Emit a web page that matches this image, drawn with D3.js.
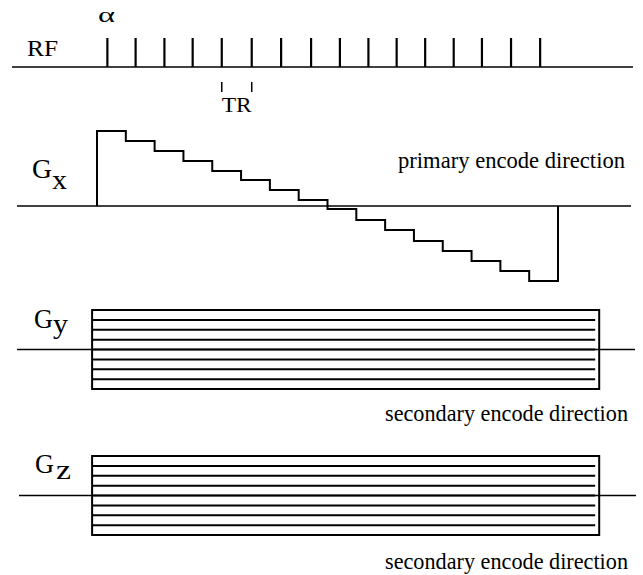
<!DOCTYPE html>
<html>
<head>
<meta charset="utf-8">
<script src="https://cdn.jsdelivr.net/npm/d3@7"></script>
<style>
    html, body { margin: 0; padding: 0; background: #fff; }
    svg { display: block; }
    text { font-family: "Liberation Serif", "Times New Roman", serif; fill: #000; }
</style>
</head>
<body>
<div id="chart"></div>
<script>
// ---- data (time in TR units, 0 = start of the Gx table) ----
const rfPulseTimes = [0.36, 1.34, 2.34, 3.32, 4.33, 5.37, 6.39, 7.43,
                      8.43, 9.42, 10.40, 11.39, 12.38, 13.36, 14.37, 15.38];
const trMarkerTimes = [4.33, 5.37];

// primary encode steps, one per TR
const gxLevels = [7.5, 6.5, 5.5, 4.5, 3.5, 2.6, 1.6, 0.6,
                  -0.3, -1.4, -2.4, -3.5, -4.5, -5.5, -6.5, -7.5];

// secondary encode tables
const gyLevels = [4, 3, 2, 1, 0, -1, -2, -3, -4];
const gzLevels = [4, 3, 2, 1, 0, -1, -2, -3, -4];
const tableSpan = [-0.17, 17.43];   // start / end of the Gy, Gz blocks
const tableInnerEnd = 17.29;        // inner lines stop a bit short

const rowNames = ['RF', 'Gx', 'Gy', 'Gz'];
const rowNotes = ['', 'primary encode direction', 'secondary encode direction', 'secondary encode direction'];

// ---- layout ----
const width = 643, height = 575;
const svg = d3.select('#chart').append('svg')
    .attr('width', width)
    .attr('height', height);

const x = d3.scaleLinear().domain([0, 16]).range([97, 558]);

// vertical scale per row (baseline sits at value 0)
const yRF = d3.scaleLinear().domain([0, 1]).range([67, 38]);
const yGx = d3.scaleLinear().domain([-7.5, 7.5]).range([281, 131]);
const yGy = d3.scaleLinear().domain([-4, 4]).range([389, 310]);
const yGz = d3.scaleLinear().domain([-4, 4]).range([535, 456]);

/**
 * text fitted to the width measured on the scan
 */
function label(sel, str, px, py, size, len) {
    return sel.append('text')
        .attr('x', px)
        .attr('y', py)
        .style('font-size', size + 'px')
        .attr('textLength', len)
        .attr('lengthAdjust', 'spacingAndGlyphs')
        .text(str);
}

function baseline(px1, px2, py) {
    svg.append('line')
        .attr('x1', px1).attr('x2', px2)
        .attr('y1', py).attr('y2', py)
        .attr('stroke', '#000')
        .attr('stroke-width', 1.5);
}

// ---- RF ----
baseline(12, 633, yRF(0));

svg.selectAll('.rf-pulse')
    .data(rfPulseTimes)
    .enter()
    .append('line')
    .attr('class', 'rf-pulse')
    .attr('x1', d => x(d)).attr('x2', d => x(d))
    .attr('y1', yRF(0)).attr('y2', yRF(1))
    .attr('stroke', '#000')
    .attr('stroke-width', 2.2);

// TR marker
svg.selectAll('.tr-tick')
    .data(trMarkerTimes)
    .enter()
    .append('line')
    .attr('class', 'tr-tick')
    .attr('x1', d => x(d)).attr('x2', d => x(d))
    .attr('y1', 82).attr('y2', 92)
    .attr('stroke', '#000')
    .attr('stroke-width', 1.5);

label(svg, rowNames[0], 27, 56, 24, 31);
label(svg, 'α', 98, 22, 22, 17);
label(svg, 'TR', x(trMarkerTimes[0]), 112, 21, x(trMarkerTimes[1]) - x(trMarkerTimes[0]));

// ---- Gx ----
baseline(17, 631, yGx(0));

const gxPoints = [{ t: 0, v: 0 }]
    .concat(gxLevels.map((v, i) => ({ t: i, v })))
    .concat([{ t: gxLevels.length, v: gxLevels[gxLevels.length - 1] }, { t: gxLevels.length, v: 0 }]);

const stepLine = d3.line()
    .x(d => x(d.t))
    .y(d => yGx(d.v))
    .curve(d3.curveStepAfter);

svg.append('path')
    .datum(gxPoints)
    .attr('d', stepLine)
    .attr('fill', 'none')
    .attr('stroke', '#000')
    .attr('stroke-width', 2);

label(svg, 'G', 32, 178, 27, 20);
label(svg, 'x', 52, 189, 27, 15);
label(svg, rowNotes[1], 398, 168, 23, 227);

// ---- Gy / Gz tables ----
function drawTable(levels, y, base, nameX, nameY, subX, subY, noteY, sub) {
    baseline(base[0], base[1], y(0));

    svg.append('rect')
        .attr('x', x(tableSpan[0]))
        .attr('y', y(d3.max(levels)))
        .attr('width', x(tableSpan[1]) - x(tableSpan[0]))
        .attr('height', y(d3.min(levels)) - y(d3.max(levels)))
        .attr('fill', 'none')
        .attr('stroke', '#000')
        .attr('stroke-width', 2);

    svg.append('g').selectAll('line')
        .data(levels.slice(1, -1))
        .enter()
        .append('line')
        .attr('x1', x(tableSpan[0])).attr('x2', x(tableInnerEnd))
        .attr('y1', d => y(d)).attr('y2', d => y(d))
        .attr('stroke', '#000')
        .attr('stroke-width', 2);

    label(svg, 'G', nameX, nameY, 27, 19);
    label(svg, sub, subX, subY, 27, 15);
    label(svg, rowNotes[2], 385, noteY, 23, 243);
}

drawTable(gyLevels, yGy, [17, 635], 34, 328, 53, 333, 421, 'y');
drawTable(gzLevels, yGz, [19, 636], 35, 473, 56, 479, 569, 'z');
</script>
</body>
</html>
